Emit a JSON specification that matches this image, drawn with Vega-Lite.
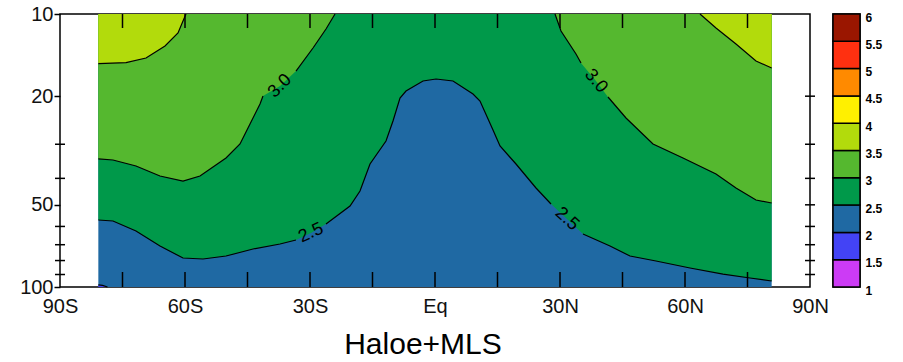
{
  "$schema": "https://vega.github.io/schema/vega-lite/v6.json",
  "background": "white",
  "padding": {"left": 18, "top": 3, "right": 5, "bottom": 5},
  "spacing": 23,
  "bounds": "flush",
  "config": {
    "view": {"stroke": "#000", "strokeWidth": 1.5},
    "font": "Liberation Sans",
    "axis": {"labelColor": "#111", "labelFont": "Liberation Sans"}
  },
  "datasets": {
    "base": [{"lat": -80.8, "p": 100}, {"lat": 80.8, "p": 100}],
    "contours": [
      {"piece": "3.5L", "seg": "3.5L", "lat": -80.8, "p": 15.2},
      {"piece": "3.5L", "seg": "3.5L", "lat": -74.16, "p": 15.08},
      {"piece": "3.5L", "seg": "3.5L", "lat": -69.36, "p": 14.49},
      {"piece": "3.5L", "seg": "3.5L", "lat": -64.8, "p": 13.1},
      {"piece": "3.5L", "seg": "3.5L", "lat": -61.68, "p": 11.74},
      {"piece": "3.5L", "seg": "3.5L", "lat": -60.48, "p": 10.61},
      {"piece": "3.5L", "seg": "3.5L", "lat": -59.76, "p": 10},
      {"piece": "3.5R", "seg": "3.5R", "lat": 63.6, "p": 10},
      {"piece": "3.5R", "seg": "3.5R", "lat": 67.44, "p": 11.25},
      {"piece": "3.5R", "seg": "3.5R", "lat": 72.24, "p": 12.88},
      {"piece": "3.5R", "seg": "3.5R", "lat": 77.04, "p": 14.86},
      {"piece": "3.5R", "seg": "3.5R", "lat": 80.8, "p": 15.77},
      {"piece": "3.0L", "seg": "3.0La", "lat": -80.8, "p": 33.96},
      {"piece": "3.0L", "seg": "3.0La", "lat": -77.28, "p": 34.26},
      {"piece": "3.0L", "seg": "3.0La", "lat": -71.76, "p": 36.04},
      {"piece": "3.0L", "seg": "3.0La", "lat": -66, "p": 39.22},
      {"piece": "3.0L", "seg": "3.0La", "lat": -60.48, "p": 40.91},
      {"piece": "3.0L", "seg": "3.0La", "lat": -56.4, "p": 39.22},
      {"piece": "3.0L", "seg": "3.0La", "lat": -50.16, "p": 33.69},
      {"piece": "3.0L", "seg": "3.0La", "lat": -46.8, "p": 29.93},
      {"piece": "3.0L", "seg": "3.0La", "lat": -44.4, "p": 25.29},
      {"piece": "3.0L", "seg": "3.0La", "lat": -42, "p": 21.36},
      {"piece": "3.0L", "seg": "3.0La", "lat": -41.28, "p": 19.97},
      {"piece": "3.0L", "seg": "gap", "lat": -37.2, "p": 18.36},
      {"piece": "3.0L", "seg": "3.0Lb", "lat": -33.36, "p": 16.18},
      {"piece": "3.0L", "seg": "3.0Lb", "lat": -29.28, "p": 13.32},
      {"piece": "3.0L", "seg": "3.0Lb", "lat": -26.16, "p": 11.35},
      {"piece": "3.0L", "seg": "3.0Lb", "lat": -24, "p": 10},
      {"piece": "3.0R", "seg": "3.0Ra", "lat": 28.8, "p": 10},
      {"piece": "3.0R", "seg": "3.0Ra", "lat": 30.24, "p": 11.54},
      {"piece": "3.0R", "seg": "3.0Ra", "lat": 33.84, "p": 14.01},
      {"piece": "3.0R", "seg": "3.0Ra", "lat": 35.04, "p": 15.12},
      {"piece": "3.0R", "seg": "gap", "lat": 38.64, "p": 17.6},
      {"piece": "3.0R", "seg": "3.0Rb", "lat": 41.52, "p": 20.14},
      {"piece": "3.0R", "seg": "3.0Rb", "lat": 45.84, "p": 24.04},
      {"piece": "3.0R", "seg": "3.0Rb", "lat": 52.32, "p": 29.93},
      {"piece": "3.0R", "seg": "3.0Rb", "lat": 59.52, "p": 33.69},
      {"piece": "3.0R", "seg": "3.0Rb", "lat": 67.44, "p": 38.56},
      {"piece": "3.0R", "seg": "3.0Rb", "lat": 72.24, "p": 43.39},
      {"piece": "3.0R", "seg": "3.0Rb", "lat": 77.04, "p": 48.01},
      {"piece": "3.0R", "seg": "3.0Rb", "lat": 80.8, "p": 49.23},
      {"piece": "2.5", "seg": "2.5a", "lat": -80.8, "p": 56.83},
      {"piece": "2.5", "seg": "2.5a", "lat": -77.28, "p": 57.31},
      {"piece": "2.5", "seg": "2.5a", "lat": -71.76, "p": 62.36},
      {"piece": "2.5", "seg": "2.5a", "lat": -66, "p": 70.76},
      {"piece": "2.5", "seg": "2.5a", "lat": -60.48, "p": 78.32},
      {"piece": "2.5", "seg": "2.5a", "lat": -55.68, "p": 78.97},
      {"piece": "2.5", "seg": "2.5a", "lat": -50.16, "p": 76.99},
      {"piece": "2.5", "seg": "2.5a", "lat": -43.68, "p": 72.57},
      {"piece": "2.5", "seg": "2.5a", "lat": -37.2, "p": 69.58},
      {"piece": "2.5", "seg": "2.5a", "lat": -33.36, "p": 67.27},
      {"piece": "2.5", "seg": "gap", "lat": -29.76, "p": 63.42},
      {"piece": "2.5", "seg": "2.5b", "lat": -26.16, "p": 58.77},
      {"piece": "2.5", "seg": "2.5b", "lat": -20.4, "p": 50.5},
      {"piece": "2.5", "seg": "2.5b", "lat": -18, "p": 44.5},
      {"piece": "2.5", "seg": "2.5b", "lat": -15.6, "p": 35.44},
      {"piece": "2.5", "seg": "2.5b", "lat": -11.76, "p": 29.19},
      {"piece": "2.5", "seg": "2.5b", "lat": -10.08, "p": 24.66},
      {"piece": "2.5", "seg": "2.5b", "lat": -8.4, "p": 20.31},
      {"piece": "2.5", "seg": "2.5b", "lat": -6.96, "p": 19.15},
      {"piece": "2.5", "seg": "2.5b", "lat": -2.88, "p": 17.6},
      {"piece": "2.5", "seg": "2.5b", "lat": 0.24, "p": 17.3},
      {"piece": "2.5", "seg": "2.5b", "lat": 4.32, "p": 17.6},
      {"piece": "2.5", "seg": "2.5b", "lat": 9.12, "p": 19.63},
      {"piece": "2.5", "seg": "2.5b", "lat": 10.8, "p": 20.83},
      {"piece": "2.5", "seg": "2.5b", "lat": 13.92, "p": 26.6},
      {"piece": "2.5", "seg": "2.5b", "lat": 15.6, "p": 30.44},
      {"piece": "2.5", "seg": "2.5b", "lat": 19.44, "p": 35.44},
      {"piece": "2.5", "seg": "2.5b", "lat": 24.24, "p": 43.39},
      {"piece": "2.5", "seg": "2.5b", "lat": 27.84, "p": 49.66},
      {"piece": "2.5", "seg": "gap", "lat": 31.68, "p": 56.36},
      {"piece": "2.5", "seg": "2.5c", "lat": 35.52, "p": 63.97},
      {"piece": "2.5", "seg": "2.5c", "lat": 42, "p": 70.76},
      {"piece": "2.5", "seg": "2.5c", "lat": 46.8, "p": 76.99},
      {"piece": "2.5", "seg": "2.5c", "lat": 53.04, "p": 80.32},
      {"piece": "2.5", "seg": "2.5c", "lat": 61.2, "p": 85.2},
      {"piece": "2.5", "seg": "2.5c", "lat": 69.12, "p": 89.65},
      {"piece": "2.5", "seg": "2.5c", "lat": 75.6, "p": 92.7},
      {"piece": "2.5", "seg": "2.5c", "lat": 80.8, "p": 95.06},
      {"piece": "2.0", "seg": "2.0", "lat": -80.8, "p": 98.3},
      {"piece": "2.0", "seg": "2.0", "lat": -79.8, "p": 98.6},
      {"piece": "2.0", "seg": "2.0", "lat": -78.6, "p": 100}
    ],
    "labels": [
      {"id": "a", "label": "3.0", "lat": -37.2, "p": 18.36},
      {"id": "b", "label": "2.5", "lat": -29.76, "p": 63.42},
      {"id": "c", "label": "3.0", "lat": 38.64, "p": 17.6},
      {"id": "d", "label": "2.5", "lat": 31.68, "p": 56.36}
    ],
    "xticksTop": [
      {"lat": -75, "p": 10}, {"lat": -60, "p": 10}, {"lat": -45, "p": 10}, {"lat": -30, "p": 10},
      {"lat": -15, "p": 10}, {"lat": 0, "p": 10}, {"lat": 15, "p": 10}, {"lat": 30, "p": 10},
      {"lat": 45, "p": 10}, {"lat": 60, "p": 10}, {"lat": 75, "p": 10}
    ],
    "xticksBottom": [
      {"lat": -75, "p": 100}, {"lat": -60, "p": 100}, {"lat": -45, "p": 100}, {"lat": -30, "p": 100},
      {"lat": -15, "p": 100}, {"lat": 0, "p": 100}, {"lat": 15, "p": 100}, {"lat": 30, "p": 100},
      {"lat": 45, "p": 100}, {"lat": 60, "p": 100}, {"lat": 75, "p": 100}
    ],
    "yminor": [{"p": 30}, {"p": 40}, {"p": 60}, {"p": 70}, {"p": 80}, {"p": 90}],
    "yright": [{"p": 20}, {"p": 30}, {"p": 40}, {"p": 50}, {"p": 60}, {"p": 70}, {"p": 80}, {"p": 90}],
    "cbar": [
      {"band": "1-1.5", "lo": 1, "hi": 1.5},
      {"band": "1.5-2", "lo": 1.5, "hi": 2},
      {"band": "2-2.5", "lo": 2, "hi": 2.5},
      {"band": "2.5-3", "lo": 2.5, "hi": 3},
      {"band": "3-3.5", "lo": 3, "hi": 3.5},
      {"band": "3.5-4", "lo": 3.5, "hi": 4},
      {"band": "4-4.5", "lo": 4, "hi": 4.5},
      {"band": "4.5-5", "lo": 4.5, "hi": 5},
      {"band": "5-5.5", "lo": 5, "hi": 5.5},
      {"band": "5.5-6", "lo": 5.5, "hi": 6}
    ]
  },
  "hconcat": [
    {
      "width": 750,
      "height": 273,
      "title": {"text": "Haloe+MLS", "orient": "bottom", "fontSize": 30, "fontWeight": "normal", "font": "Liberation Sans", "color": "#000", "offset": 14, "dx": -12, "anchor": "middle"},
      "layer": [
        {
          "data": {"name": "base"},
          "mark": {"type": "area", "color": "#1F69A3"},
          "encoding": {
            "x": {
              "field": "lat", "type": "quantitative",
              "scale": {"domain": [-90, 90], "nice": false, "zero": false},
              "axis": {
                "values": [-90, -60, -30, 0, 30, 60, 90],
                "labelExpr": "datum.value == 0 ? 'Eq' : (abs(datum.value) + (datum.value < 0 ? 'S' : 'N'))",
                "ticks": false, "domain": false, "grid": false, "title": null,
                "labelFontSize": 20, "labelPadding": 9, "labelFlush": false, "labelOverlap": false
              }
            },
            "y": {
              "field": "p", "type": "quantitative",
              "scale": {"type": "log", "domain": [10, 100], "nice": false, "reverse": true},
              "axis": {
                "values": [10, 20, 50, 100], "format": "d",
                "tickSize": 6, "tickWidth": 1.5, "tickColor": "#000",
                "domain": false, "grid": false, "title": null,
                "labelFontSize": 20, "labelPadding": 1, "labelOverlap": false
              }
            },
            "y2": {"datum": 10}
          }
        },
        {
          "data": {"name": "contours"},
          "transform": [{"filter": {"field": "piece", "equal": "2.0"}}],
          "mark": {"type": "area", "color": "#4343F5"},
          "encoding": {"x": {"field": "lat", "type": "quantitative"}, "y": {"field": "p", "type": "quantitative"}, "y2": {"datum": 100}}
        },
        {
          "data": {"name": "contours"},
          "transform": [{"filter": {"field": "piece", "equal": "2.5"}}],
          "mark": {"type": "area", "color": "#00994A"},
          "encoding": {"x": {"field": "lat", "type": "quantitative"}, "y": {"field": "p", "type": "quantitative"}, "y2": {"datum": 10}}
        },
        {
          "data": {"name": "contours"},
          "transform": [{"filter": {"field": "piece", "oneOf": ["3.0L", "3.0R"]}}],
          "mark": {"type": "area", "color": "#55B82F"},
          "encoding": {"x": {"field": "lat", "type": "quantitative"}, "y": {"field": "p", "type": "quantitative"}, "y2": {"datum": 10}, "detail": {"field": "piece"}}
        },
        {
          "data": {"name": "contours"},
          "transform": [{"filter": {"field": "piece", "oneOf": ["3.5L", "3.5R"]}}],
          "mark": {"type": "area", "color": "#B2DB0C"},
          "encoding": {"x": {"field": "lat", "type": "quantitative"}, "y": {"field": "p", "type": "quantitative"}, "y2": {"datum": 10}, "detail": {"field": "piece"}}
        },
        {
          "data": {"name": "contours"},
          "transform": [{"filter": "datum.seg != 'gap'"}],
          "mark": {"type": "line", "color": "#000", "strokeWidth": 1.2},
          "encoding": {"x": {"field": "lat", "type": "quantitative"}, "y": {"field": "p", "type": "quantitative"}, "detail": {"field": "seg"}}
        },
        {
          "data": {"name": "labels"},
          "transform": [{"filter": {"field": "id", "equal": "a"}}],
          "mark": {"type": "text", "angle": 315, "fontSize": 18, "font": "Liberation Sans", "color": "#000"},
          "encoding": {"x": {"field": "lat", "type": "quantitative"}, "y": {"field": "p", "type": "quantitative"}, "text": {"field": "label"}}
        },
        {
          "data": {"name": "labels"},
          "transform": [{"filter": {"field": "id", "equal": "b"}}],
          "mark": {"type": "text", "angle": 335, "fontSize": 18, "font": "Liberation Sans", "color": "#000"},
          "encoding": {"x": {"field": "lat", "type": "quantitative"}, "y": {"field": "p", "type": "quantitative"}, "text": {"field": "label"}}
        },
        {
          "data": {"name": "labels"},
          "transform": [{"filter": {"field": "id", "equal": "c"}}],
          "mark": {"type": "text", "angle": 50, "fontSize": 18, "font": "Liberation Sans", "color": "#000"},
          "encoding": {"x": {"field": "lat", "type": "quantitative"}, "y": {"field": "p", "type": "quantitative"}, "text": {"field": "label"}}
        },
        {
          "data": {"name": "labels"},
          "transform": [{"filter": {"field": "id", "equal": "d"}}],
          "mark": {"type": "text", "angle": 42, "fontSize": 18, "font": "Liberation Sans", "color": "#000"},
          "encoding": {"x": {"field": "lat", "type": "quantitative"}, "y": {"field": "p", "type": "quantitative"}, "text": {"field": "label"}}
        },
        {
          "data": {"name": "xticksTop"},
          "mark": {"type": "point", "shape": "M0,0V1", "size": 784, "filled": false, "stroke": "#000", "strokeWidth": 1.5, "opacity": 1, "strokeOpacity": 1},
          "encoding": {"x": {"field": "lat", "type": "quantitative"}, "y": {"field": "p", "type": "quantitative"}}
        },
        {
          "data": {"name": "xticksBottom"},
          "mark": {"type": "point", "shape": "M0,0V-1", "size": 900, "filled": false, "stroke": "#000", "strokeWidth": 1.5, "opacity": 1, "strokeOpacity": 1},
          "encoding": {"x": {"field": "lat", "type": "quantitative"}, "y": {"field": "p", "type": "quantitative"}}
        },
        {
          "data": {"name": "yminor"},
          "mark": {"type": "rule", "color": "#000", "strokeWidth": 1.5, "clip": false},
          "encoding": {"y": {"field": "p", "type": "quantitative"}, "x": {"datum": -91.2, "type": "quantitative"}, "x2": {"datum": -88.8}}
        },
        {
          "data": {"name": "yright"},
          "mark": {"type": "rule", "color": "#000", "strokeWidth": 1.5, "clip": false},
          "encoding": {"y": {"field": "p", "type": "quantitative"}, "x": {"datum": 88.8, "type": "quantitative"}, "x2": {"datum": 91.2}}
        }
      ]
    },
    {
      "width": 27,
      "height": 273,
      "data": {"name": "cbar"},
      "mark": {"type": "rect", "stroke": "#000", "strokeWidth": 1.5},
      "encoding": {
        "y": {
          "field": "lo", "type": "quantitative",
          "scale": {"domain": [1, 6], "nice": false, "zero": false},
          "axis": {
            "orient": "right", "values": [1, 1.5, 2, 2.5, 3, 3.5, 4, 4.5, 5, 5.5, 6], "format": "~g",
            "ticks": false, "domain": false, "grid": false, "title": null,
            "labelFont": "Liberation Sans", "labelFontWeight": "bold", "labelFontSize": 12,
            "labelPadding": 5, "labelOffset": 3, "labelFlush": false, "labelOverlap": false, "labelColor": "#000"
          }
        },
        "y2": {"field": "hi"},
        "color": {
          "field": "band", "type": "nominal",
          "scale": {
            "domain": ["1-1.5", "1.5-2", "2-2.5", "2.5-3", "3-3.5", "3.5-4", "4-4.5", "4.5-5", "5-5.5", "5.5-6"],
            "range": ["#CC3BF5", "#4343F5", "#1F69A3", "#00994A", "#55B82F", "#B2DB0C", "#FFF000", "#FF8A00", "#FF3010", "#9A1600"]
          },
          "legend": null
        }
      }
    }
  ]
}
